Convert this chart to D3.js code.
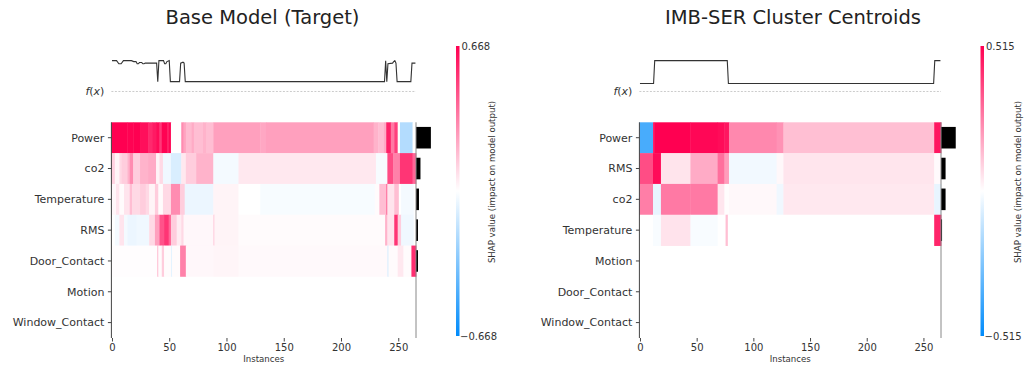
<!DOCTYPE html>
<html>
<head>
<meta charset="utf-8">
<script src="https://cdn.jsdelivr.net/npm/d3@7"></script>
<style>
  body { margin: 0; background: #fff; }
  svg { font-family: "DejaVu Sans", sans-serif; }
</style>
</head>
<body>
<svg id="chart" width="1026" height="365"></svg>
<script>
const N_INSTANCES = 266;
const instanceTicks = [0, 50, 100, 150, 200, 250];

// ---- left panel: base model ----
const baseTitle = "Base Model (Target)";
const baseVmax = 0.668;
const baseFeatures = ["Power", "co2", "Temperature", "RMS", "Door_Contact", "Motion", "Window_Contact"];
// [first instance, end instance, shap value] runs per feature row
const baseSegments = [
  [[0,14,0.668],[14,19,0.66],[19,25,0.668],[25,32,0.63],[32,36,0.56],[36,39,0.6],[39,42,0.64],[42,44,0.52],
   [44,49,0.66],[49,50,0.55],[50,52,0.65],[52,61,0],[61,63,0.3],[63,65,0.24],[65,70,0.18],[70,72,0.22],
   [72,80,0.17],[80,83,0.2],[83,89,0.17],[89,130,0.25],[130,135,0.23],[135,229,0.25],[229,233,0.2],
   [233,238,0.17],[238,240,0.22],[240,244,0.58],[244,247,0.35],[247,250,0.5],[250,252,0],[252,263,-0.2],[263,266,0]],
  [[0,3,0.12],[3,7,0.03],[7,9,0.1],[9,14,0.13],[14,16,0.2],[16,19,0.3],[19,25,0.13],[25,32,0.2],[32,39,0.22],
   [39,42,0.03],[42,45,0.1],[45,52,-0.04],[52,61,-0.1],[61,65,0.06],[65,74,0.13],[74,89,0.2],[89,111,-0.03],
   [111,231,0.06],[231,241,-0.02],[241,246,0.47],[246,252,0.33],[252,263,0.53],[263,266,0.4]],
  [[0,4,0.02],[4,7,0.07],[7,11,0.01],[11,16,0.07],[16,18,0.17],[18,25,0.1],[25,30,0.13],[30,33,0.1],[33,38,0.03],
   [38,41,0.13],[41,45,0.01],[45,52,0.1],[52,60,0.3],[60,64,0.13],[64,89,-0.05],[89,111,0.03],[111,130,0],
   [130,230,-0.02],[230,234,0.01],[234,240,0.17],[240,241,0.4],[241,247,0.07],[247,251,0.17],[251,253,0],
   [253,264,-0.03],[264,266,0]],
  [[0,3,0],[3,7,-0.03],[7,11,0.07],[11,14,-0.03],[14,22,-0.05],[22,33,-0.04],[33,38,0.1],[38,42,0.25],
   [42,46,0.45],[46,50,0.53],[50,52,0.4],[52,57,0.13],[57,61,0.05],[61,63,0.1],[63,89,0.02],[89,90,0.13],
   [90,111,0.03],[111,239,0.01],[239,241,0.2],[241,247,0.07],[247,250,0.53],[250,253,0.13],[253,264,-0.04],[264,266,0]],
  [[0,40,0.005],[40,41,0.17],[41,44,0.01],[44,46,0.13],[46,52,0.01],[52,53,-0.07],[53,60,0.01],[60,65,0.33],
   [65,89,0.02],[89,111,0.025],[111,241,0.015],[241,242,-0.1],[242,250,0.01],[250,255,0.06],[255,262,0.01],[262,266,0.55]],
  [],
  []
];
// mean |shap| per feature (bars on the right)
const baseImportance = [0.30, 0.09, 0.06, 0.04, 0.04, 0, 0];
// normalised model output f(x): [instance, value]
const baseFx = [
  [0,1.0],[4,1.0],[6,0.9],[8,0.9],[10,1.0],[17,1.0],[19,0.97],[21,0.97],[22,0.9],[23,0.9],[24,0.94],[26,0.94],
  [27,0.9],[28,0.9],[29,0.92],[39,0.92],[40,0.32],[41,1.0],[45,1.0],[46,0.9],[47,0.9],[48,0.97],[50,1.0],
  [51,0.32],[59,0.32],[60,0.92],[62,0.95],[63,0.92],[64,0.32],[238,0.32],[239,1.0],[240,0.32],[241,0.9],
  [245,0.92],[246,0.97],[247,1.0],[248,0.92],[249,0.32],[261,0.32],[262,0.92],[265,0.92]
];

// ---- right panel: cluster centroids ----
const clusterTitle = "IMB-SER Cluster Centroids";
const clusterVmax = 0.515;
const clusterFeatures = ["Power", "RMS", "co2", "Temperature", "Motion", "Door_Contact", "Window_Contact"];
const clusterSegments = [
  [[0,12,-0.37],[12,13,0.45],[13,45,0.515],[45,69,0.5],[69,75,0.49],[75,79,0.47],[79,121,0.24],[121,127,0.22],
   [127,260,0.13],[260,266,0.47]],
  [[0,12,0.36],[12,19,0.49],[19,45,0.055],[45,69,0.17],[69,75,0.29],[75,79,0.2],[79,121,-0.026],[121,127,0.015],
   [127,260,0.052],[260,266,0.01]],
  [[0,12,0.26],[12,19,-0.046],[19,45,0.27],[45,69,0.27],[69,75,0.05],[75,79,0.005],[79,121,0.015],[121,127,-0.03],
   [127,260,0.046],[260,266,-0.046]],
  [[0,12,0],[12,19,-0.015],[19,45,0.057],[45,69,-0.015],[69,76,0],[76,78,0.13],[78,260,0],[260,266,0.44]],
  [],
  [],
  []
];
const clusterImportance = [0.28, 0.087, 0.087, 0.02, 0, 0, 0];
const clusterFx = [[0,0.26],[12,0.26],[13,1.0],[77,1.0],[78,0.26],[259,0.26],[260,1.0],[265,1.0]];

const BLUE = "#008bfb", RED = "#ff0051";
const BAR_SPAN = 13; // widest bar, in instance units
const svg = d3.select("#chart");

function drawPanel(p) {
  const n = p.features.length;
  const x = d3.scaleLinear().domain([-0.5, N_INSTANCES - 0.5]).range([p.left, p.right]);
  const y = d3.scaleLinear().domain([-0.5, n - 0.5]).range([p.top, p.bottom]);
  const color = d3.scaleLinear()
    .domain([-p.vmax, 0, p.vmax])
    .range([BLUE, "#ffffff", RED])
    .interpolate(d3.interpolateRgb)
    .clamp(true);

  const g = svg.append("g");

  // heatmap
  p.segments.forEach((segs, row) => {
    g.selectAll(null)
      .data(segs)
      .enter()
      .append("rect")
      .attr("x", d => x(d[0] - 0.5))
      .attr("width", d => x(d[1] - 0.5) - x(d[0] - 0.5) + 0.4)
      .attr("y", y(row - 0.5))
      .attr("height", y(row + 0.5) - y(row - 0.5) + 0.4)
      .attr("fill", d => color(d[2]));
  });

  // f(x) baseline + line
  g.append("line")
    .attr("x1", x(-0.5)).attr("x2", x(N_INSTANCES - 0.5))
    .attr("y1", y(-1.5)).attr("y2", y(-1.5))
    .attr("stroke", "#aaa").attr("stroke-width", 0.6)
    .attr("stroke-dasharray", "2,1.5");

  const line = d3.line().x(d => x(d[0])).y(d => y(-d[1] - 1.5));
  g.append("path")
    .datum(p.fx)
    .attr("d", line)
    .attr("fill", "none")
    .attr("stroke", "#333")
    .attr("stroke-width", 1.1);

  // importance bars
  const bw = d3.scaleLinear().domain([0, d3.max(p.importance)]).range([0, x(BAR_SPAN) - x(0)]);
  g.selectAll(".bar")
    .data(p.importance)
    .enter()
    .append("rect")
    .attr("x", x(N_INSTANCES - 0.5))
    .attr("y", (d, i) => y(i - 0.35))
    .attr("width", d => bw(d))
    .attr("height", y(0.35) - y(-0.35))
    .attr("fill", "#000");

  // spines
  g.append("line")
    .attr("x1", x(-0.5)).attr("x2", x(-0.5))
    .attr("y1", y(-0.5)).attr("y2", y(n - 0.5))
    .attr("stroke", "#444").attr("stroke-width", 1);
  g.append("line")
    .attr("x1", x(N_INSTANCES - 0.5)).attr("x2", x(N_INSTANCES - 0.5))
    .attr("y1", y(-0.5)).attr("y2", y(n - 0.5))
    .attr("stroke", "#888").attr("stroke-width", 1);

  // feature labels
  const yAxis = g.append("g").attr("transform", `translate(${x(-0.5)},0)`);
  p.features.forEach((f, i) => {
    yAxis.append("line")
      .attr("x1", -3.5).attr("x2", 0)
      .attr("y1", y(i)).attr("y2", y(i))
      .attr("stroke", "#444");
    yAxis.append("text")
      .attr("x", -7)
      .attr("y", y(i))
      .attr("dy", "0.35em")
      .attr("text-anchor", "end")
      .style("font-size", "11px")
      .attr("fill", "#333")
      .text(f);
  });
  const fxLabel = yAxis.append("text")
    .attr("x", -7)
    .attr("y", y(-1.5))
    .attr("dy", "0.35em")
    .attr("text-anchor", "end")
    .style("font-size", "11px")
    .attr("fill", "#333");
  fxLabel.append("tspan").style("font-style", "italic").text("f");
  fxLabel.append("tspan").text("(");
  fxLabel.append("tspan").style("font-style", "italic").text("x");
  fxLabel.append("tspan").text(")");

  // x axis
  const xAxis = g.append("g")
    .attr("transform", `translate(0,${y(n - 0.5)})`)
    .call(d3.axisBottom(x).tickValues(instanceTicks).tickSize(3.5).tickPadding(2));
  xAxis.select(".domain").remove();
  xAxis.selectAll("line").attr("stroke", "#444");
  xAxis.selectAll("text")
    .style("font-family", "DejaVu Sans")
    .style("font-size", "10px")
    .attr("fill", "#333");

  g.append("text")
    .attr("x", (p.left + p.right) / 2)
    .attr("y", 361.5)
    .attr("text-anchor", "middle")
    .style("font-size", "8.6px")
    .attr("fill", "#333")
    .text("Instances");

  // title
  g.append("text")
    .attr("x", p.titleX)
    .attr("y", 24)
    .attr("text-anchor", "middle")
    .style("font-size", "19.5px")
    .attr("fill", "#222")
    .text(p.title);

  // colorbar
  const gradId = "grad-" + p.id;
  const grad = svg.append("defs").append("linearGradient")
    .attr("id", gradId)
    .attr("x1", 0).attr("y1", 0).attr("x2", 0).attr("y2", 1);
  grad.append("stop").attr("offset", "0%").attr("stop-color", color(p.vmax));
  grad.append("stop").attr("offset", "50%").attr("stop-color", color(0));
  grad.append("stop").attr("offset", "100%").attr("stop-color", color(-p.vmax));

  const cb = d3.scaleLinear().domain([-p.vmax, p.vmax]).range([336, 46]);
  g.append("rect")
    .attr("x", p.cbX)
    .attr("y", cb(p.vmax))
    .attr("width", 3.5)
    .attr("height", cb(-p.vmax) - cb(p.vmax))
    .attr("fill", `url(#${gradId})`);

  [p.vmax, -p.vmax].forEach(v => {
    g.append("text")
      .attr("x", p.cbX + 5.5 - (v < 0 ? 1.5 : 0))
      .attr("y", cb(v))
      .attr("dy", "0.35em")
      .style("font-size", "10px")
      .attr("fill", "#333")
      .text((v < 0 ? "\u2212" : "") + Math.abs(v).toFixed(3));
  });

  g.append("text")
    .attr("transform", `translate(${p.cbLabelX},182) rotate(-90)`)
    .attr("text-anchor", "middle")
    .style("font-size", "8.6px")
    .attr("fill", "#333")
    .text("SHAP value (impact on model output)");
}

drawPanel({
  id: "base", title: baseTitle, titleX: 262.5,
  features: baseFeatures, segments: baseSegments, importance: baseImportance, fx: baseFx, vmax: baseVmax,
  left: 111.4, right: 416, top: 122.3, bottom: 338, cbX: 456, cbLabelX: 495
});
drawPanel({
  id: "cluster", title: clusterTitle, titleX: 793,
  features: clusterFeatures, segments: clusterSegments, importance: clusterImportance, fx: clusterFx, vmax: clusterVmax,
  left: 639.4, right: 941, top: 122.3, bottom: 338, cbX: 980.5, cbLabelX: 1021
});
</script>
</body>
</html>
